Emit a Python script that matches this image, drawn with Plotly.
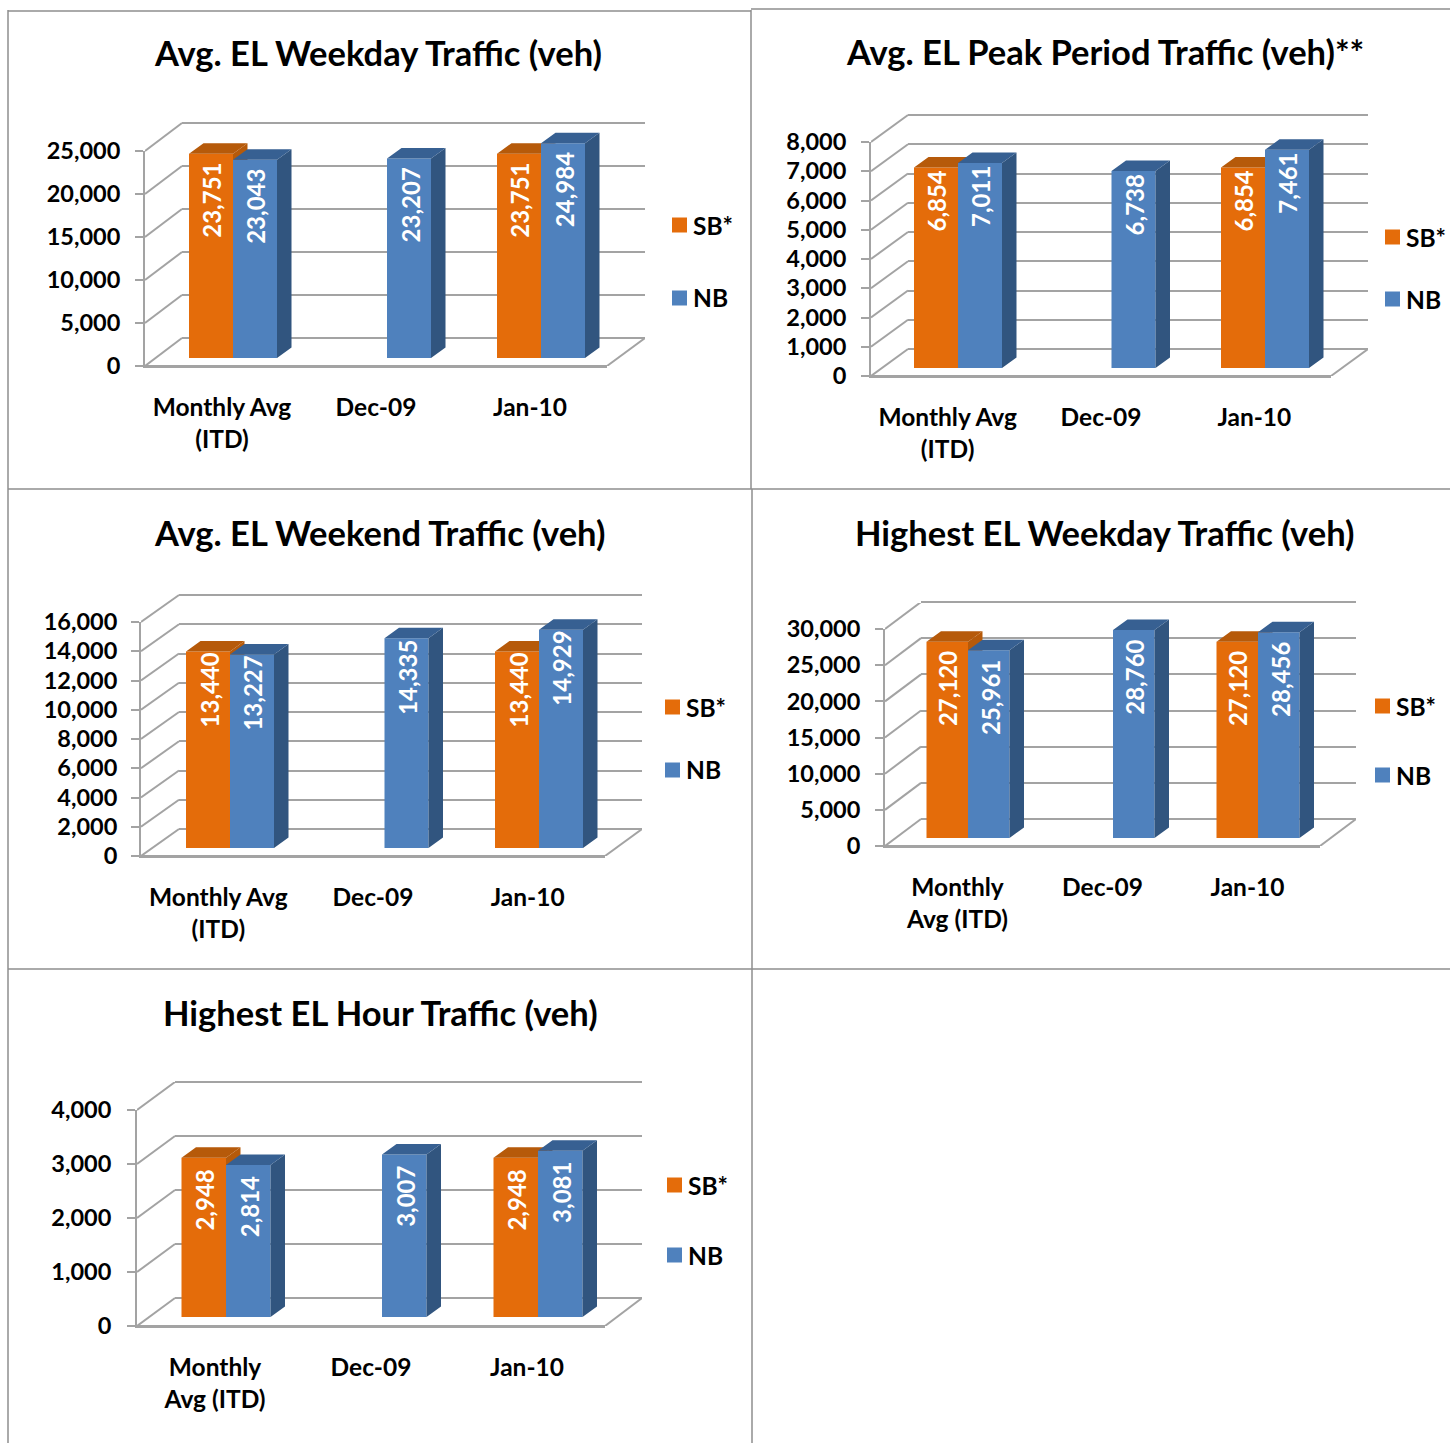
import plotly.graph_objects as go

# ---------- data ----------
categories_a = ["<b>Monthly Avg</b><br><b>(ITD)</b>", "<b>Dec-09</b>", "<b>Jan-10</b>"]
categories_b = ["<b>Monthly</b><br><b>Avg (ITD)</b>", "<b>Dec-09</b>", "<b>Jan-10</b>"]

weekday_sb = [23751, None, 23751]
weekday_nb = [23043, 23207, 24984]
peak_sb = [6854, None, 6854]
peak_nb = [7011, 6738, 7461]
weekend_sb = [13440, None, 13440]
weekend_nb = [13227, 14335, 14929]
high_day_sb = [27120, None, 27120]
high_day_nb = [25961, 28760, 28456]
high_hour_sb = [2948, None, 2948]
high_hour_nb = [2814, 3007, 3081]

ORANGE, ORANGE_TOP = "#E46C0A", "#B65A0A"
BLUE, BLUE_TOP, BLUE_SIDE = "#4F81BD", "#376092", "#31557F"
GREY = "#A3A3A3"
BORDER = "#8E8E8E"
FONT = "Lato"
W, H = 1450, 1443

panels = [
    dict(title="Avg. EL Weekday Traffic (veh)", tx=378, ty=53, cats=categories_a, sb=weekday_sb, nb=weekday_nb,
         ticks=list(range(0, 25001, 5000)), wall=(145, 607, 366, 151), back=(182, 645, 338, 122),
         centers=(233, 541), bottom=358, bw=44, lab=47, tick_right=120,
         key=(672, 225, 298)),
    dict(title="Avg. EL Peak Period Traffic (veh)**", tx=1105, ty=52, cats=categories_a, sb=peak_sb, nb=peak_nb,
         ticks=list(range(0, 8001, 1000)), wall=(871, 1331, 376, 142), back=(908, 1368, 349, 114),
         centers=(958, 1265), bottom=368, bw=44, lab=34, tick_right=846,
         key=(1385, 237, 299)),
    dict(title="Avg. EL Weekend Traffic (veh)", tx=379, ty=532, cats=categories_a, sb=weekend_sb, nb=weekend_nb,
         ticks=list(range(0, 16001, 2000)), wall=(141, 605, 856, 622), back=(179, 642, 829, 593),
         centers=(230, 539), bottom=848, bw=44, lab=39, tick_right=117,
         key=(665, 707, 770)),
    dict(title="Highest EL Weekday Traffic (veh)", tx=1105, ty=532, cats=categories_b, sb=high_day_sb, nb=high_day_nb,
         ticks=list(range(0, 30001, 5000)), wall=(885, 1320, 846, 629), back=(921, 1356, 819, 603),
         centers=(968, 1258), bottom=838, bw=41.5, lab=47, tick_right=860,
         key=(1375, 706, 775)),
    dict(title="Highest EL Hour Traffic (veh)", tx=380, ty=1012, cats=categories_b, sb=high_hour_sb, nb=high_hour_nb,
         ticks=list(range(0, 4001, 1000)), wall=(137, 605, 1326, 1110), back=(175, 642, 1298, 1082),
         centers=(226, 538), bottom=1317, bw=44.5, lab=42, tick_right=111,
         key=(667, 1185, 1255)),
]

fig = go.Figure()
layout = {}
annotations = []
shapes = []


def px(x):
    return x / W


def py(y):
    return 1 - y / H


def add_axes(n, xdom, ydom, xrange, yrange):
    suffix = "" if n == 1 else str(n)
    layout["xaxis" + suffix] = dict(domain=[px(xdom[0]), px(xdom[1])], range=list(xrange), visible=False,
                                    anchor="y" + suffix, fixedrange=True, automargin=False)
    layout["yaxis" + suffix] = dict(domain=[py(ydom[0]), py(ydom[1])], range=list(yrange), visible=False,
                                    anchor="x" + suffix, fixedrange=True, automargin=False)
    return "x" + suffix, "y" + suffix, "xaxis" + suffix, "yaxis" + suffix


axis_id = 0
for p in panels:
    ymax = p["ticks"][-1]
    wl, wr, w0, wt = p["wall"]
    bl, br, b0, bt = p["back"]
    ppu = (w0 - wt) / ymax             # pixels per data unit

    # back wall: native gridlines (range padded so the top gridline is kept)
    axis_id += 1
    pad = 6
    xa, ya, xk, yk = add_axes(axis_id, (bl, br), (b0, bt - pad), (0, 1), (0, (b0 - bt + pad) / ppu))
    layout[yk].update(visible=True, showgrid=True, gridcolor=GREY, gridwidth=2, tickvals=p["ticks"],
                      showticklabels=False, ticks="", zeroline=True, zerolinecolor=GREY, zerolinewidth=2,
                      showline=False)
    fig.add_trace(go.Scatter(x=[0, 1], y=[0, 0], xaxis=xa, yaxis=ya, mode="lines",
                             line=dict(color=GREY, width=2), showlegend=False, hoverinfo="skip"))

    # depth diagonals, on an axis pair that contains them completely
    axis_id += 1
    s = (wr - wl) / 3
    ddx, ddy = (bl - wl) / s, (w0 - b0) / ppu
    xa, ya, xk, yk = add_axes(axis_id, (wl, br), (w0, bt), (-0.5, -0.5 + (br - wl) / s), (0, (w0 - bt) / ppu))
    dgx, dgy = [], []
    for t in p["ticks"]:
        dgx += [-0.5, -0.5 + ddx, None]
        dgy += [t, t + ddy, None]
    dgx += [2.5, 2.5 + (br - wr) / s]
    dgy += [0, ddy]
    fig.add_trace(go.Scatter(x=dgx, y=dgy, xaxis=xa, yaxis=ya, mode="lines", cliponaxis=False,
                             line=dict(color=GREY, width=2), showlegend=False, hoverinfo="skip"))

    # front wall: value labels, category labels
    axis_id += 1
    xa, ya, xk, yk = add_axes(axis_id, (wl, wr), (w0, wt), (-0.5, 2.5), (0, ymax))
    layout[yk].update(visible=True, showgrid=False, zeroline=False, tickvals=p["ticks"],
                      ticktext=[f"<b>{t:,}</b>" for t in p["ticks"]],
                      tickfont=dict(family=FONT, size=23.5, color="black"), showline=True, linecolor=GREY,
                      linewidth=2, ticks="outside", ticklen=8, tickcolor=GREY, tickwidth=2,
                      ticklabelstandoff=wl - 8 - p["tick_right"] - 3 - 4)
    layout[xk].update(visible=True, showgrid=False, zeroline=False, tickvals=[0, 1, 2], ticktext=p["cats"],
                      tickfont=dict(family=FONT, size=24.5, color="black"), showline=True, linecolor=GREY,
                      linewidth=2, ticks="", ticklabelstandoff=19)
    fig.add_trace(go.Scatter(x=[-0.5, 2.5], y=[0, 0], xaxis=xa, yaxis=ya, mode="lines",
                             line=dict(color=GREY, width=2), showlegend=False, hoverinfo="skip"))

    # bars with depth faces: SB subplot below NB subplot
    c1, c3 = p["centers"]
    s = (c3 - c1) / 2
    xdom = (c1 - s / 2, c3 + s / 2)
    b = p["bottom"]
    ydom = (b, b - 1.2 * ymax * ppu)
    w = p["bw"] / s
    dx, dy = 14.5 / s, 10.5 / ppu
    for key, sign, col, top, side in (("sb", -1, ORANGE, ORANGE_TOP, ORANGE_TOP), ("nb", 1, BLUE, BLUE_TOP, BLUE_SIDE)):
        axis_id += 1
        xa, ya, xk, yk = add_axes(axis_id, xdom, ydom, (-0.5, 2.5), (0, 1.2 * ymax))
        vals = p[key]
        xs = [0, 1, 2]
        fig.add_trace(go.Bar(x=xs, y=vals, xaxis=xa, yaxis=ya, width=w, offset=-w if sign < 0 else 0,
                             marker=dict(color=col, line=dict(width=0)), name=key.upper(), showlegend=False,
                             hoverinfo="skip"))
        sx, sy, tx, ty = [], [], [], []
        for i, v in zip(xs, vals):
            if v is None:
                continue
            x0 = i - w if sign < 0 else i
            x1 = x0 + w
            sx += [x1, x1 + dx, x1 + dx, x1, x1, None]
            sy += [0, dy, v + dy, v, 0, None]
            tx += [x0, x0 + dx, x1 + dx, x1, x0, None]
            ty += [v, v + dy, v + dy, v, v, None]
            annotations.append(dict(x=i, y=v, xref=xa, yref=ya, xshift=sign * p["bw"] / 2 + 1, yshift=-p["lab"],
                                    text=f"<b>{v:,}</b>", textangle=-90, showarrow=False,
                                    xanchor="center", yanchor="middle",
                                    font=dict(family=FONT, size=24, color="white")))
        fig.add_trace(go.Scatter(x=sx, y=sy, xaxis=xa, yaxis=ya, mode="lines", fill="toself", fillcolor=side,
                                 line=dict(width=0), cliponaxis=False, showlegend=False, hoverinfo="skip"))
        fig.add_trace(go.Scatter(x=tx, y=ty, xaxis=xa, yaxis=ya, mode="lines", fill="toself", fillcolor=top,
                                 line=dict(width=0), cliponaxis=False, showlegend=False, hoverinfo="skip"))

    # title
    annotations.append(dict(x=px(p["tx"]), y=py(p["ty"]), xref="paper", yref="paper", text=f"<b>{p['title']}</b>",
                            xanchor="center", yanchor="middle",
                            showarrow=False, font=dict(family=FONT, size=34.5, color="black")))
    # legend keys
    kx, ky1, ky2 = p["key"]
    for label, col, ky in (("SB*", ORANGE, ky1), ("NB", BLUE, ky2)):
        shapes.append(dict(type="rect", xref="paper", yref="paper", x0=px(kx), x1=px(kx + 15),
                           y0=py(ky - 7.5), y1=py(ky + 7.5), fillcolor=col, line=dict(width=0)))
        annotations.append(dict(x=px(kx + 19), y=py(ky), xref="paper", yref="paper", text=f"<b>{label}</b>",
                                xanchor="left", yanchor="middle",
                                showarrow=False, font=dict(family=FONT, size=24.5, color="black")))

# panel borders
for x0, y0, x1, y1 in [(8, 10, 8, 1443), (751, 10, 751, 489), (752, 489, 752, 1443),
                       (8, 11, 751, 11), (751, 9, 1450, 9), (8, 489, 1450, 489), (8, 969, 1450, 969)]:
    shapes.append(dict(type="line", xref="paper", yref="paper", x0=px(x0), x1=px(x1), y0=py(y0), y1=py(y1),
                       line=dict(color=BORDER, width=1.5)))

fig.update_layout(width=W, height=H, margin=dict(l=0, r=0, t=0, b=0), paper_bgcolor="white",
                  plot_bgcolor="rgba(0,0,0,0)",
                  barmode="overlay", showlegend=False, annotations=annotations, shapes=shapes, **layout)
fig.write_html("out.html", config={"displayModeBar": False},
               post_script="document.body.style.margin='0';document.documentElement.style.overflow='hidden';")
